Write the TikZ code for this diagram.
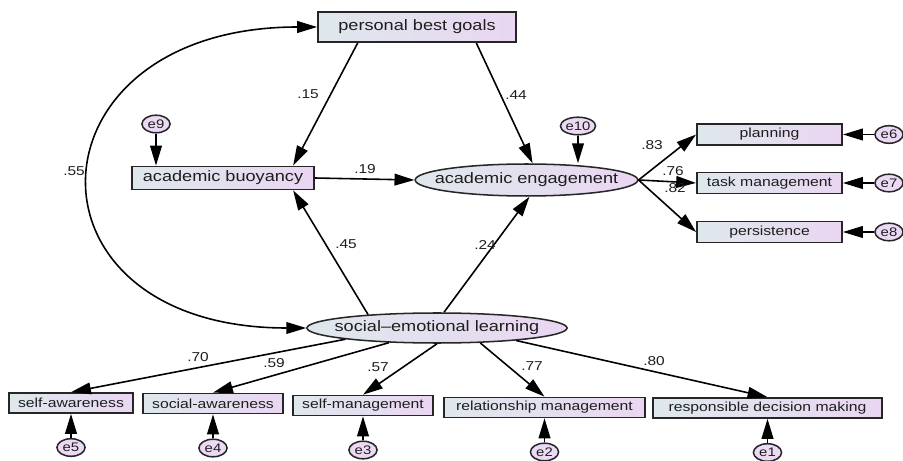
\documentclass[tikz,border=0pt]{standalone}
\usepackage{fontspec}
\setmainfont{Liberation Sans}[FakeStretch=1.2]
\usetikzlibrary{arrows.meta}
\usetikzlibrary{shapes.geometric}

\definecolor{fillL}{RGB}{222,232,236}
\definecolor{fillR}{RGB}{234,214,242}
\definecolor{errfill}{RGB}{236,218,244}
\definecolor{txt}{RGB}{30,30,30}

\tikzset{
 obs/.style={draw=black!85, line width=1.5pt, left color=fillL, right color=fillR, inner sep=0pt,
   minimum height=17pt, text=txt, font=\fontsize{11.2}{13}\selectfont},
 bigobs/.style={obs, font=\fontsize{12.9}{15}\selectfont},
 lat/.style={ellipse, draw=black!85, line width=1.3pt, left color=fillL, right color=fillR,
   inner xsep=-30pt, inner ysep=0pt, text=txt, font=\fontsize{12.9}{15}\selectfont},
 err/.style={ellipse, draw=black!85, line width=1.3pt, fill=errfill, inner sep=0pt,
   minimum width=24pt, minimum height=15pt, text=txt, font=\fontsize{10.6}{12}\selectfont},
 coef/.style={inner sep=0pt, text=txt, font=\fontsize{11}{13}\selectfont},
 reg/.style={line width=1.35pt, -{Triangle[length=17pt,width=10pt]}},
 cov/.style={line width=1.35pt, {Triangle[length=17pt,width=10pt]}-{Triangle[length=17pt,width=10pt]}},
}

\begin{document}
\begin{tikzpicture}[x=.03cm, y=-.03cm]
\useasboundingbox (0,0) rectangle (903,461);
% structural part
\node[bigobs, minimum width=169pt, minimum height=25.6pt] (pbg) at (417,27) {personal best goals};
\node[bigobs, minimum width=155.4pt, minimum height=19.6pt] (buoy) at (223,178) {academic buoyancy};
\node[lat, minimum width=190pt, minimum height=27.3pt] (eng) at (526.5,180) {academic engagement};
\node[lat, minimum width=222pt, minimum height=25.6pt] (sel) at (437,328) {social–emotional learning};
\node[err] (e9) at (156,124) {e9};
\node[err] (e10) at (578,126) {e10};

\draw[reg] (e9) -- (e9 |- buoy.north);
\draw[reg] (e10) -- (e10 |- eng.north);
\draw[reg] (pbg.195) -- (buoy.10);
\draw[reg] (pbg.-15) -- (eng.70);
\draw[reg] (buoy.east) -- (eng.west);
\draw[reg] (sel.169) -- (buoy.-10);
\draw[reg] (sel.66) -- (eng.-80);
\draw[cov] (sel.west) .. controls +(-295,0) and +(-295,0) .. (pbg.west);

\node[coef] (c15) at (308,94) {.15};
\node[coef] (c44) at (516,95) {.44};
\node[coef] (c55) at (74,171) {.55};
\node[coef] (c19) at (365,169) {.19};
\node[coef] (c45) at (346,244) {.45};
\node[coef] (c24) at (485,245) {.24};

% engagement indicators
\foreach \n/\t/\y/\e in {plan/planning/134.5/e6, task/task management/183/e7, pers/persistence/232/e8} {
 \node[obs, minimum width=123.8pt, minimum height=17.9pt] (\n) at (769.5,\y) {\t};
 \node[err] (\e) at (889,\y) {\e};
 \draw[reg] (\e) -- (\n);
 \draw[reg] (eng.east) -- (\n.west);
}
\node[coef] (c83) at (652,145) {.83};
\node[coef] (c76) at (673,171) {.76};
\node[coef] (c82) at (675,188) {.82};

% SEL indicators
\foreach \n/\t/\x/\y/\w/\e/\a in {sa/self-awareness/71/403/105.8/e5/187,
  soa/social-awareness/213/403.5/119.5/e4/197,
  sm/self-management/363/405.5/119.5/e3/270,
  rm/relationship management/544.5/407.5/171.6/e2/341,
  rdm/responsible decision making/767.5/408/195.5/e1/351} {
 \node[obs, minimum width=\w pt] (\n) at (\x,\y) {\t};
 \node[err] (\e) at (\x,\y+44.5) {\e};
 \draw[reg] (\e) -- (\n);
 \draw[reg] (sel.\a) -- (\n.north);
}
\node[coef] (c70) at (198,357) {.70};
\node[coef] (c59) at (274,363) {.59};
\node[coef] (c57) at (378,367) {.57};
\node[coef] (c77) at (532,366) {.77};
\node[coef] (c80) at (654,361) {.80};
\end{tikzpicture}
\end{document}
